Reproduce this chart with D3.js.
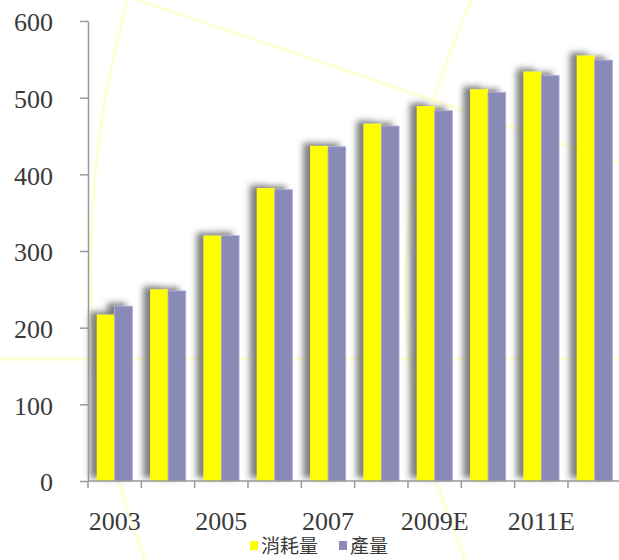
<!DOCTYPE html>
<html>
<head>
<meta charset="utf-8">
<script src="https://cdn.jsdelivr.net/npm/d3@7"></script>
<style>
  body { margin: 0; background: #fff; }
  svg { display: block; }
</style>
</head>
<body>
<div id="main"></div>
<script>
  // data
  var years = ["2003", "2004", "2005", "2006", "2007", "2008", "2009E", "2010E", "2011E", "2012E"];
  var consumption = [217, 250, 320, 382, 437, 466, 489, 511, 534, 555];
  var production = [228, 248, 320, 380, 436, 463, 483, 507, 529, 549];
  var seriesNames = ["消耗量", "產量"];
  var seriesColors = ["#ffff00", "#8a8ab8"];
  var yTicks = [0, 100, 200, 300, 400, 500, 600];

  var width = 619, height = 560;

  var svg = d3.select("#main")
              .append("svg")
              .attr("width", width)
              .attr("height", height);

  // soft shadow to the left of each pair of bars
  var defs = svg.append("defs");
  var f = defs.append("filter")
      .attr("id", "shade")
      .attr("x", "-50%").attr("y", "-10%")
      .attr("width", "200%").attr("height", "120%");
  f.append("feDropShadow")
      .attr("dx", -7)
      .attr("dy", -3)
      .attr("stdDeviation", 3)
      .attr("flood-color", "#555")
      .attr("flood-opacity", 0.75);

  // faint background lines of the slide
  var bg = svg.append("g")
      .attr("fill", "none")
      .attr("stroke", "#ffffc4")
      .attr("stroke-width", 3)
      .attr("opacity", 0.7);
  var curve = d3.line().curve(d3.curveBasis);
  bg.append("path").attr("d", curve([[128, -2], [102, 100], [88, 240], [94, 380], [117, 482], [146, 562]]));
  bg.append("path").attr("d", curve([[472, -2], [430, 100], [406, 220], [404, 320], [416, 420], [436, 482], [466, 562]]));
  bg.append("line").attr("x1", 132).attr("y1", -2).attr("x2", 621).attr("y2", 164);
  bg.append("line").attr("x1", 0).attr("y1", 359).attr("x2", 619).attr("y2", 359);

  var y = d3.scaleLinear()
      .domain([0, 600])
      .range([481, 21]);

  var x0 = d3.scaleBand()
      .domain(years)
      .range([88, 621.3])
      .paddingInner(0);

  var bw = x0.bandwidth();
  var x1 = d3.scaleBand()
      .domain(seriesNames)
      .range([bw / 6, bw * 5 / 6]);

  var rows = years.map(function(yr, i) {
    return { year: yr, values: [consumption[i], production[i]] };
  });

  var groups = svg.append("g").selectAll("g")
      .data(rows)
      .enter().append("g")
      .attr("transform", function(d) { return "translate(" + x0(d.year) + ",0)"; })
      .attr("filter", "url(#shade)");

  groups.selectAll("rect")
      .data(function(d) { return d.values.map(function(v, j) { return { name: seriesNames[j], value: v, c: seriesColors[j] }; }); })
      .enter().append("rect")
      .attr("x", function(d) { return x1(d.name); })
      .attr("y", function(d) { return y(d.value); })
      .attr("width", x1.bandwidth())
      .attr("height", function(d) { return y(0) - y(d.value); })
      .attr("fill", function(d) { return d.c; })
      .attr("stroke", function(d, j) { return j == 1 ? "#b4b4d4" : "none"; })
      .attr("stroke-width", 0.8);

  // y axis
  var yAxis = svg.append("g")
      .attr("transform", "translate(88,0)")
      .call(d3.axisLeft(y).tickValues(yTicks).tickSize(8).tickPadding(27).tickSizeOuter(0));
  yAxis.select(".domain").attr("stroke", "#999").attr("stroke-width", 1.5);
  yAxis.selectAll(".tick line").attr("stroke", "#999").attr("stroke-width", 1.5);
  yAxis.selectAll("text")
      .attr("fill", "#3a3a3a")
      .attr("dy", "0.38em")
      .style("font-family", "'Liberation Serif', serif")
      .style("font-size", "26px");

  // x axis: ticks on the band edges, labels on every other band
  var xAxis = svg.append("g");
  xAxis.append("line")
      .attr("x1", 88).attr("x2", 621)
      .attr("y1", y(0)).attr("y2", y(0))
      .attr("stroke", "#999").attr("stroke-width", 1.5);
  xAxis.selectAll(".edge")
      .data(years)
      .enter().append("line")
      .attr("class", "edge")
      .attr("x1", function(d) { return x0(d); })
      .attr("x2", function(d) { return x0(d); })
      .attr("y1", y(0)).attr("y2", y(0) + 7)
      .attr("stroke", "#999").attr("stroke-width", 1.5);
  xAxis.selectAll(".lbl")
      .data(years.filter(function(d, i) { return i % 2 == 0; }))
      .enter().append("text")
      .attr("class", "lbl")
      .attr("x", function(d) { return x0(d) + bw / 2; })
      .attr("y", 530)
      .attr("text-anchor", "middle")
      .attr("fill", "#3a3a3a")
      .style("font-family", "'Liberation Serif', serif")
      .style("font-size", "26px")
      .text(function(d) { return d; });

  // legend
  var legendX = [250, 339];
  var legend = svg.append("g").selectAll("g")
      .data(seriesNames)
      .enter().append("g")
      .attr("transform", function(d, i) { return "translate(" + legendX[i] + ",0)"; });
  legend.append("rect")
      .attr("x", 0).attr("y", 541)
      .attr("width", 8).attr("height", 9)
      .attr("fill", function(d, i) { return seriesColors[i]; });
  legend.append("text")
      .attr("x", 11).attr("y", 553)
      .attr("fill", "#3a3a3a")
      .style("font-family", "'Noto Sans CJK TC', sans-serif")
      .style("font-size", "19px")
      .text(function(d) { return d; });
</script>
</body>
</html>
